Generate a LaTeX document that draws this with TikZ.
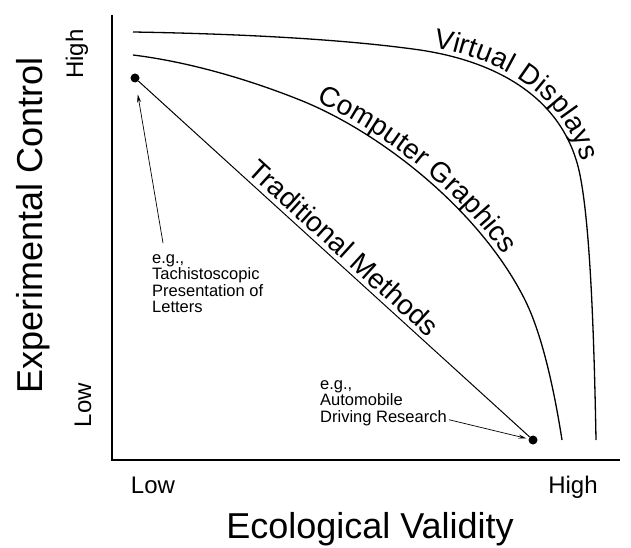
\documentclass[tikz,border=0pt]{standalone}
\usepackage{fontspec}
\setmainfont{Liberation Sans}
\usetikzlibrary{arrows.meta}
\usetikzlibrary{decorations.text}
\newcommand{\curvefont}{\fontsize{28}{28}\selectfont}

\begin{document}
\begin{tikzpicture}[x=1pt, y=1pt,
    curve/.style={line width=1.3pt},
    dot/.style={circle, fill=black, inner sep=0pt, minimum size=9pt},
    note/.style={align=left, inner sep=0pt, font=\fontsize{16.5}{16.5}\selectfont},
    pointer/.style={line width=0.7pt, -{Stealth[length=8pt,width=4pt]}},
    ticklabel/.style={font=\fontsize{24}{24}\selectfont, anchor=base, inner sep=0pt},
    axislabel/.style={font=\fontsize{36}{36}\selectfont, anchor=base, inner sep=0pt}]
    \useasboundingbox (0,0) rectangle (631,547);
    % Axes
    \coordinate (ytop) at (112,532);
    \coordinate (origin) at (112,87);
    \coordinate (xend) at (620,87);
    \draw[line width=1.8pt] (ytop) -- (origin) -- (xend);
    \node[axislabel, rotate=90] (ylab) at (42,322) {Experimental Control};
    \node[axislabel] (xlab) at (370,9) {Ecological Validity};
    \node[ticklabel, rotate=90] (yhigh) at (83,493) {High};
    \node[ticklabel, rotate=90] (ylow) at (91,142) {Low};
    \node[ticklabel] (xlow) at (153,54) {Low};
    \node[ticklabel] (xhigh) at (573,54) {High};
    % Virtual Displays
    \draw[curve] (133,515) .. controls (250,513) and (350,507) .. (420,497)
        .. controls (500,485) and (565,447) .. (580,372)
        .. controls (590,322) and (594,217) .. (596,107);
    \path[decorate, decoration={text along path, text={|\curvefont|Virtual Displays},
        text align=center, raise=5pt}]
        (420,497) .. controls (500,485) and (565,447) .. (580,372);
    % Computer Graphics
    \draw[curve] (133,492) .. controls (190,485) and (250,467) .. (300,447)
        .. controls (380,415) and (480,337) .. (525,247)
        .. controls (543,211) and (555,152) .. (562,107);
    \path[decorate, decoration={text along path, text={|\curvefont|Computer Graphics},
        text align={left indent=15pt}, raise=5pt}]
        (300,447) .. controls (380,415) and (480,337) .. (525,247);
    % Traditional Methods
    \node[dot] (lab) at (135,469) {};
    \node[dot] (field) at (533,107) {};
    \draw[line width=1pt] (lab) -- (field)
        node[midway, sloped, above=1pt, font=\curvefont] (trad) {Traditional Methods};
    % Examples
    \node[note, anchor=north west] (tachisto) at (152,293) {e.g.,\\Tachistoscopic\\Presentation of\\Letters};
    \node[note, anchor=north west] (auto) at (320,167) {e.g.,\\Automobile\\Driving Research};
    \draw[pointer, shorten >=12pt] ([shift={(11pt,11pt)}]tachisto.north west) -- (lab);
    \draw[pointer, shorten >=2pt] ([shift={(2pt,6pt)}]auto.south east) -- (field);
\end{tikzpicture}
\end{document}
